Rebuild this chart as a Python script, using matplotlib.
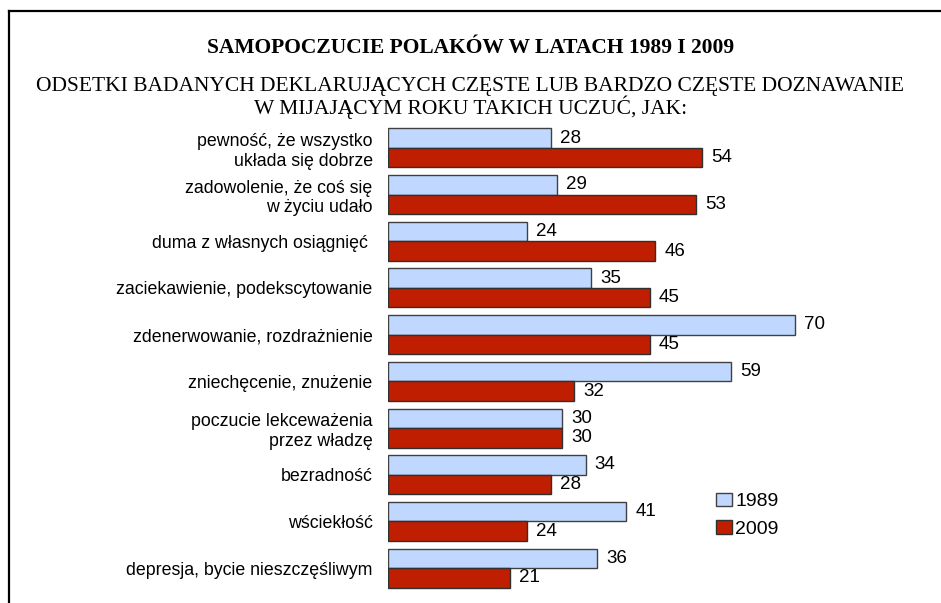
import numpy as np
import matplotlib.pyplot as plt
from matplotlib.lines import Line2D

# dane
kategorie = ['pewność, że wszystko\nukłada się dobrze',
             'zadowolenie, że coś się\nw życiu udało',
             'duma z własnych osiągnięć ',
             'zaciekawienie, podekscytowanie',
             'zdenerwowanie, rozdrażnienie',
             'zniechęcenie, znużenie',
             'poczucie lekceważenia\nprzez władzę',
             'bezradność',
             'wściekłość',
             'depresja, bycie nieszczęśliwym']
wartosci_1989 = [28, 29, 24, 35, 70, 59, 30, 34, 41, 36]
wartosci_2009 = [54, 53, 46, 45, 45, 32, 30, 28, 24, 21]
lata = ['1989', '2009']

kolor_1989 = '#C0D8FF'
kolor_2009 = '#C01E00'

plt.rcParams['font.family'] = ['Liberation Sans', 'DejaVu Sans']

fig = plt.figure(figsize=(9.41, 6.03), dpi=100)
ax = fig.add_axes([388 / 941, 1 - 591.4 / 603, 523 / 941, (591.4 - 124.6) / 603])

y = np.arange(len(kategorie))
h = 0.418
b1 = ax.barh(y - h / 2, wartosci_1989, height=h, color=kolor_1989,
             edgecolor='#404040', linewidth=1.0, label=lata[0])
b2 = ax.barh(y + h / 2, wartosci_2009, height=h, color=kolor_2009,
             edgecolor='#303030', linewidth=1.0, label=lata[1])
ax.bar_label(b1, padding=6.5, fontsize=13.5)
ax.bar_label(b2, padding=6.5, fontsize=13.5)

ax.set_xlim(0, 90)
ax.set_ylim(9.5, -0.5)
ax.set_yticks(y)
ax.set_yticklabels(kategorie, fontsize=12.8, multialignment='right')
ax.tick_params(axis='y', length=0, pad=11)
ax.set_xticks([])
for s in ax.spines.values():
    s.set_visible(False)

leg = ax.legend(loc='upper left', bbox_to_anchor=(708 / 941, 1 - 485 / 603),
                bbox_transform=fig.transFigure, frameon=False, fontsize=14,
                handlelength=0.85, handleheight=0.7, handletextpad=0.15,
                labelspacing=0.5, borderaxespad=0)

# tytuły
fig.text(0.5, 1 - 48 / 603, 'SAMOPOCZUCIE POLAKÓW W LATACH 1989 I 2009',
         ha='center', va='center', fontsize=15.5, fontweight='bold',
         family='Liberation Serif')
fig.text(0.5, 1 - 98 / 603,
         'ODSETKI BADANYCH DEKLARUJĄCYCH CZĘSTE LUB BARDZO CZĘSTE DOZNAWANIE\n'
         'W MIJAJĄCYM ROKU TAKICH UCZUĆ, JAK:',
         ha='center', va='center', fontsize=15.5, family='Liberation Serif',
         linespacing=1.0)

# ramka
fig.add_artist(Line2D([8.5 / 941, 1], [1 - 10.5 / 603] * 2, color='black', lw=1.6,
                      transform=fig.transFigure))
fig.add_artist(Line2D([8.5 / 941] * 2, [0, 1 - 10.5 / 603], color='black', lw=1.6,
                      transform=fig.transFigure))

fig.savefig('out.png', dpi=100)
